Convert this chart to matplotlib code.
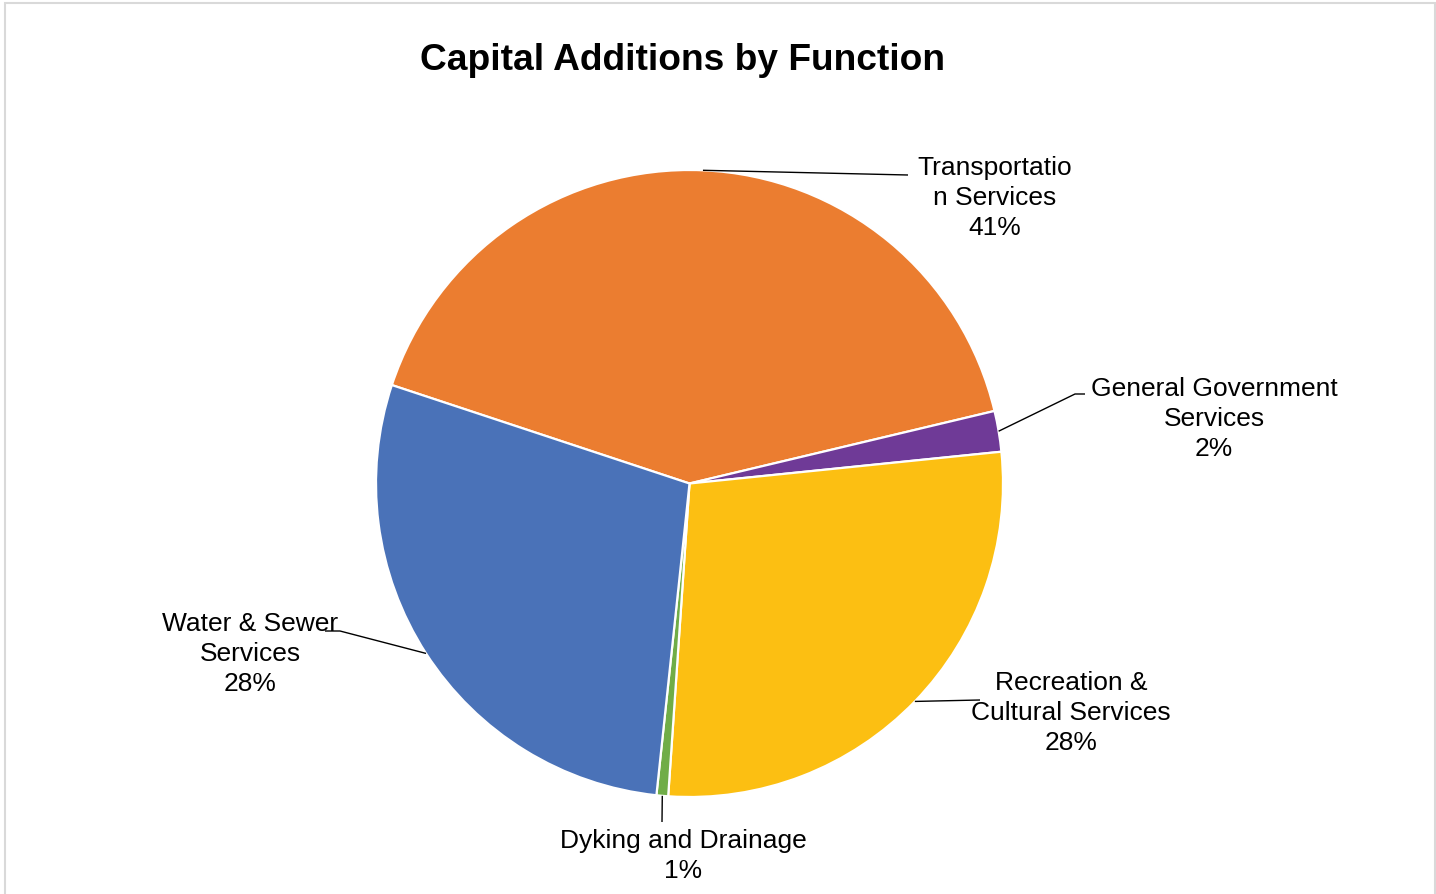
import numpy as np
import matplotlib
matplotlib.use("Agg")
import matplotlib.pyplot as plt
from matplotlib.patches import Rectangle

plt.rcParams['font.family'] = ['Liberation Sans', 'DejaVu Sans']

# Share of capital additions by function (percent), clockwise order
categories = ["Transportation Services", "General Government Services",
              "Recreation & Cultural Services", "Dyking and Drainage",
              "Water & Sewer Services"]
label_text = ["Transportatio\nn Services", "General Government\nServices",
              "Recreation &\nCultural Services", "Dyking and Drainage",
              "Water & Sewer\nServices"]
values = [41.2, 2.1, 27.7, 0.6, 28.4]
colors = ["#EB7D30", "#6F3A97", "#FCBF12", "#70AD47", "#4A72B8"]

W, H = 1436, 894
fig = plt.figure(figsize=(W / 100, H / 100), dpi=100)
ax = fig.add_axes([0, 0, 1, 1])

cx, cy, r = 689.5, H - 483.5, 313.5
wedges, _ = ax.pie(values, colors=colors, startangle=161.7, counterclock=False,
                   center=(cx, cy), radius=r,
                   wedgeprops=dict(edgecolor="white", linewidth=1.6))
ax.set_xlim(0, W)
ax.set_ylim(0, H)
ax.set_aspect("equal")
ax.axis("off")

# label placement (pixel coords, y from top) and leader-line bends
label_pos = [(995, 198), (1214, 419), (1071, 713), (683, 856), (250, 654)]
leader_pts = [
    [(908, 175)],
    [(1075, 394), (1085, 394)],
    [(980, 700)],
    [(662, 822)],
    [(340, 631), (325, 631)],
]

total = sum(values)
for w, txt, v, (lx, ly), pts in zip(wedges, label_text, values, label_pos, leader_pts):
    mid = np.deg2rad((w.theta1 + w.theta2) / 2)
    sx, sy = cx + r * np.cos(mid), cy + r * np.sin(mid)
    xs = [sx] + [p[0] for p in pts]
    ys = [sy] + [H - p[1] for p in pts]
    ax.plot(xs, ys, color="black", linewidth=1.0, solid_capstyle="butt", zorder=3)
    pct = f"{round(v / total * 100):d}%"
    ax.text(lx, H - ly, f"{txt}\n{pct}", ha="center", va="center",
            fontsize=19, linespacing=1.29, color="black", zorder=4)

ax.text(683, H - 60, "Capital Additions by Function", ha="center", va="center",
        fontsize=26.7, fontweight="bold", color="black")

# chart-area border
fig.add_artist(Rectangle((5 / W, -0.01), 1430 / W, (H - 3) / H + 0.01,
                         transform=fig.transFigure, fill=False,
                         edgecolor="#D9D9D9", linewidth=1.5))

fig.savefig("out.png", dpi=100, facecolor="white")
